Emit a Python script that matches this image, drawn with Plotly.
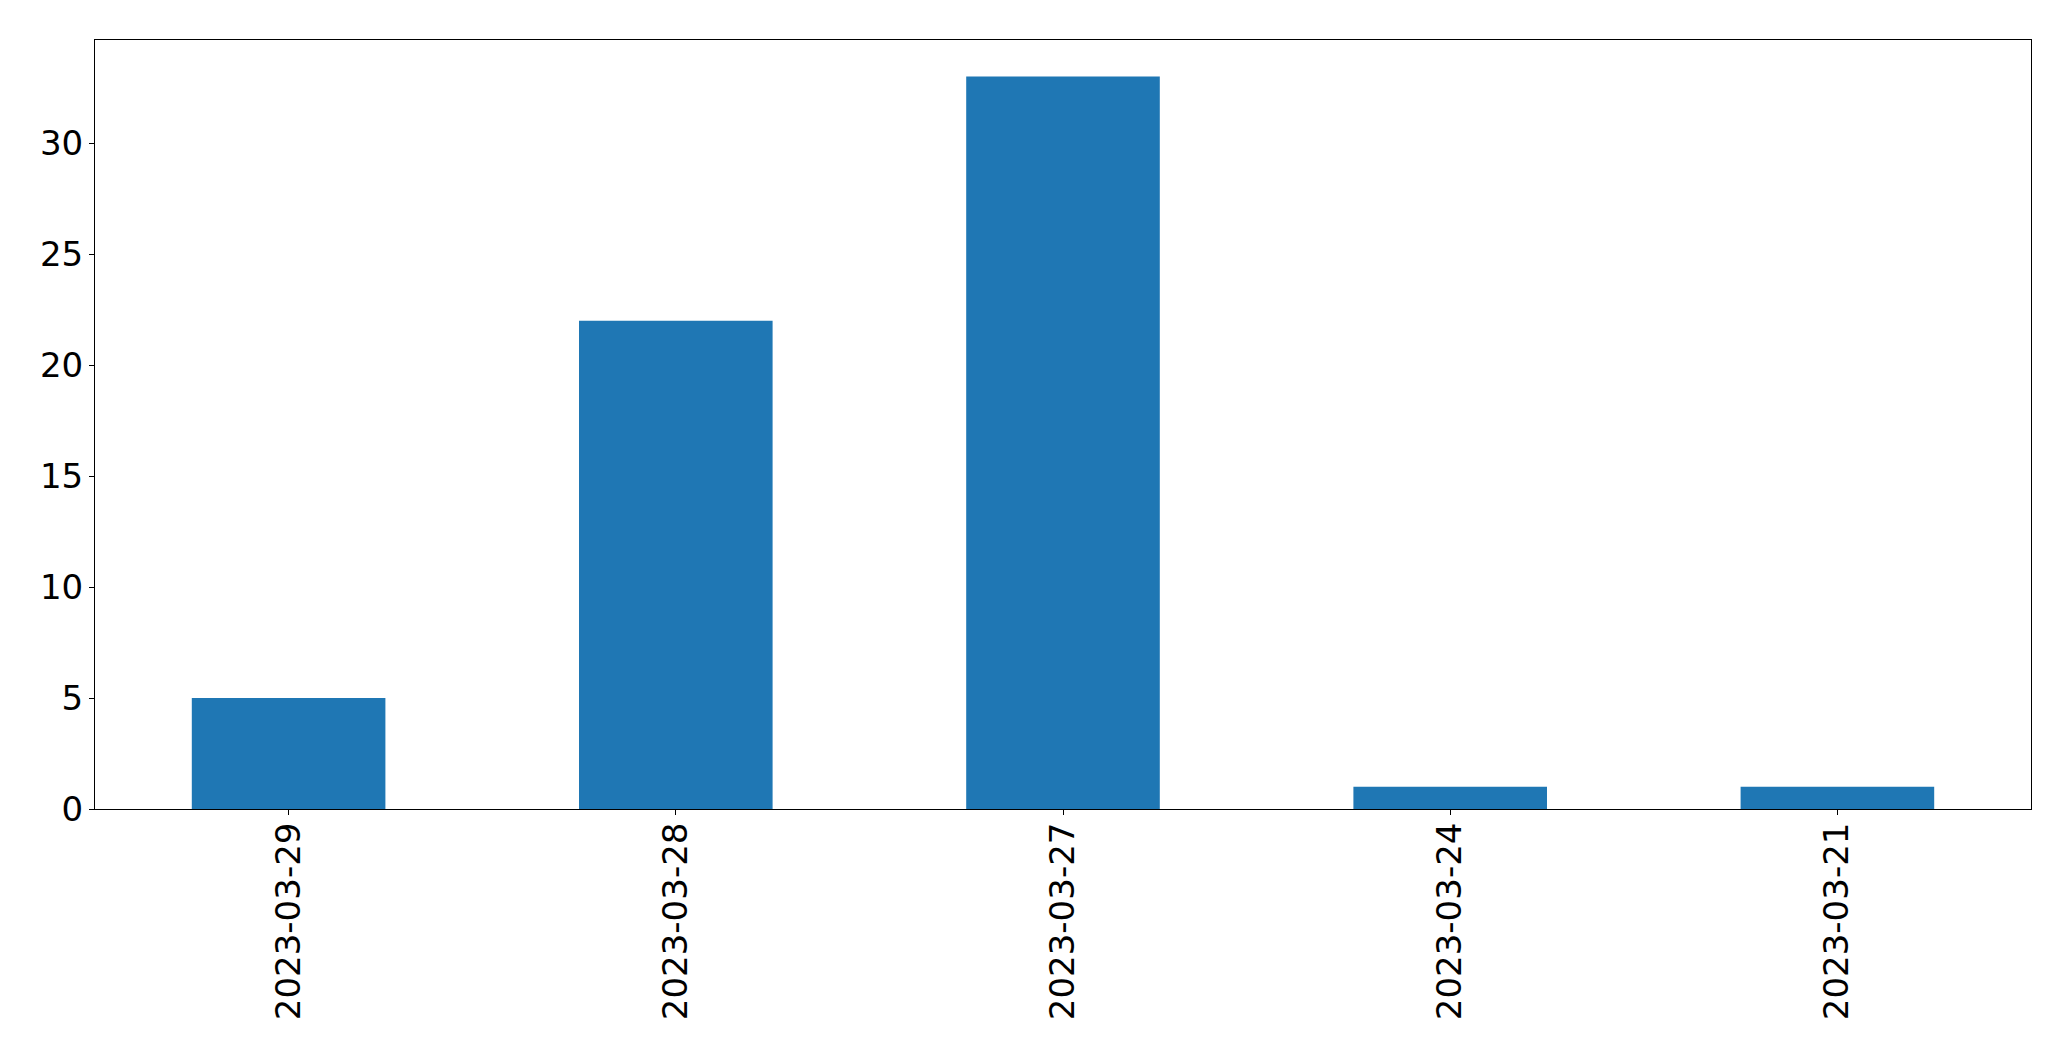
import plotly.graph_objects as go

dates = ["2023-03-29", "2023-03-28", "2023-03-27", "2023-03-24", "2023-03-21"]
counts = [5, 22, 33, 1, 1]
y_ticks = [0, 5, 10, 15, 20, 25, 30]

fig = go.Figure(
    go.Bar(x=dates, y=counts, width=0.5, marker=dict(color="#1f77b4", line=dict(width=0)))
)

font = dict(family="DejaVu Sans", size=34, color="black")
fig.update_layout(
    width=2071, height=1061,
    margin=dict(l=86.5, r=47.7, t=31.5, b=259.7, autoexpand=False),
    paper_bgcolor="white", plot_bgcolor="white",
    showlegend=False, font=font,
)
fig.update_xaxes(
    type="category", range=[-0.5, 4.5], tickangle=-90,
    showline=True, linecolor="black", linewidth=1, mirror=True,
    ticks="outside", ticklen=5, tickcolor="black", tickwidth=1,
    showgrid=False, zeroline=False, tickfont=font, ticklabelstandoff=-6,
)
fig.update_yaxes(
    range=[0, 34.65], tickvals=y_ticks,
    showline=True, linecolor="black", linewidth=1, mirror=True,
    ticks="outside", ticklen=5, tickcolor="black", tickwidth=1,
    showgrid=False, zeroline=False, tickfont=font, ticklabelstandoff=-1,
)

fig.write_html("out.html")
